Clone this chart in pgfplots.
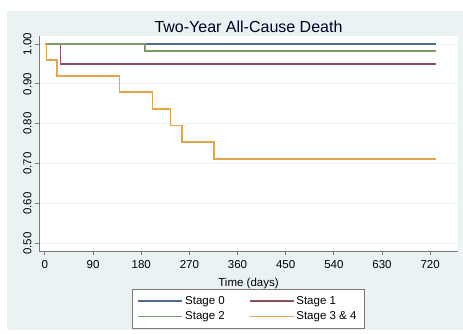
\documentclass[border=0pt]{standalone}
\usepackage{fontspec}
\setmainfont{Liberation Sans}
\usepackage{pgfplots}
\pgfplotsset{compat=1.18}
\definecolor{bgc}{HTML}{EAF2F3}
\definecolor{gridc}{HTML}{EDF1F3}
\definecolor{snavy}{HTML}{4D6C93}
\definecolor{smaroon}{HTML}{8E4F5A}
\definecolor{sgreen}{HTML}{7E9C66}
\definecolor{sorange}{HTML}{E6A548}
\definecolor{axc}{HTML}{7A7A7A}
\begin{document}
\begin{tikzpicture}[x=1pt,y=1pt]
\fill[white] (0,0) rectangle (463,334);
\fill[bgc] (7,4) rectangle (463,323);
\begin{axis}[
  at={(39pt,83pt)}, anchor=south west,
  scale only axis, width=419pt, height=215pt,
  xmin=-11, xmax=772, ymin=0.481, ymax=1.02,
  axis background/.style={fill=white},
  axis x line*=bottom, axis y line*=left,
  axis line style={axc, line width=0.8pt},
  xtick={0,90,...,720},
  ytick={0.5,0.6,0.7,0.8,0.9,1.0},
  tick align=outside, major tick length=4pt,
  tick style={axc, line width=0.8pt},
  ymajorgrids, grid style={gridc, line width=0.8pt},
  /pgf/number format/assume math mode=true,
  yticklabel style={rotate=90, anchor=south, /pgf/number format/fixed, /pgf/number format/zerofill, /pgf/number format/precision=2},
  xticklabel style={yshift=-2pt},
  ticklabel style={font=\fontsize{11.5}{13}\selectfont, text=black},
  title={Two-Year All-Cause Death},
  title style={font=\fontsize{16}{18}\selectfont, text={black!85!blue}, at={(0.5,1)}, anchor=south, inner sep=0pt, yshift=-3pt},
  xlabel={Time (days)},
  xlabel style={font=\fontsize{11.5}{13}\selectfont, at={(axis description cs:0.5,-0.163)}, anchor=base},
  legend columns=2,
  legend style={at={(0.499,-0.177)}, anchor=north, draw=axc, fill=white,
    font=\fontsize{11.5}{13}\selectfont, inner xsep=6pt, inner ysep=4pt,
    nodes={inner ysep=3pt},
    /tikz/every even column/.append style={column sep=22pt}},
  legend cell align=left,
  legend image code/.code={\draw[#1] (0pt,0pt) -- (44pt,0pt);},
  clip=false,
]
\addplot[const plot, snavy, line width=1.5pt] coordinates {(0,1) (730,1)};
\addlegendentry{Stage 0}
\addplot[const plot, smaroon, line width=1.5pt] coordinates {(0,1) (29,0.95) (730,0.95)};
\addlegendentry{Stage 1}
\addplot[const plot, sgreen, line width=1.5pt] coordinates {(0,1) (187,0.982) (730,0.982)};
\addlegendentry{Stage 2}
\addplot[const plot, sorange, line width=1.5pt] coordinates {(0,1) (3,0.96) (23,0.92) (139,0.88) (201,0.837) (235,0.796) (256,0.754) (316,0.712) (730,0.712)};
\addlegendentry{Stage 3 \& 4}
\end{axis}
\end{tikzpicture}
\end{document}
